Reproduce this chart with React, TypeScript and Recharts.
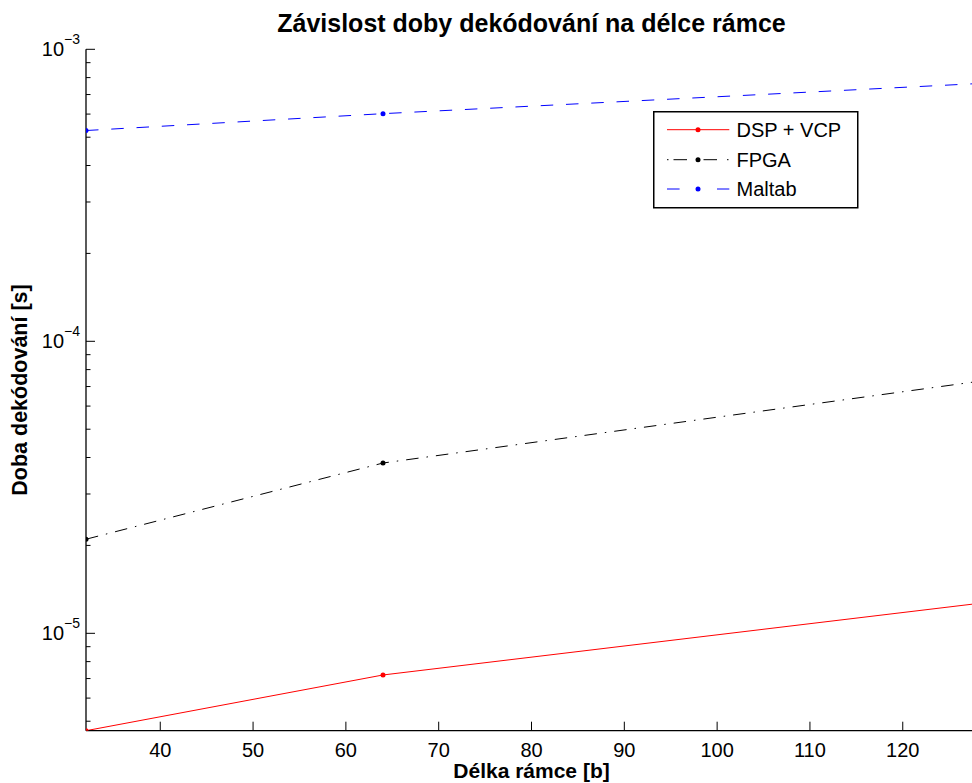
import React from "react";
import { LineChart, Line, XAxis, YAxis } from "recharts";

const frameLengths = [32, 64, 128];
const dspVcp = [4.64e-6, 7.2e-6, 1.264e-5];
const fpga = [2.1e-5, 3.83e-5, 7.28e-5];
const maltab = [5.27e-4, 6.02e-4, 7.63e-4];

const xTicks = [40, 50, 60, 70, 80, 90, 100, 110, 120];
const yTicks = [
  5e-6, 6e-6, 7e-6, 8e-6, 9e-6,
  1e-5, 2e-5, 3e-5, 4e-5, 5e-5, 6e-5, 7e-5, 8e-5, 9e-5,
  1e-4, 2e-4, 3e-4, 4e-4, 5e-4, 6e-4, 7e-4, 8e-4, 9e-4,
  1e-3,
];
const yDomain = [4.64e-6, 1e-3];
const xDomain = [32, 128];

const title = "Závislost doby dekódování na délce rámce";
const xLabel = "Délka rámce [b]";
const yLabel = "Doba dekódování [s]";

const series = [
  { key: "dsp", name: "DSP + VCP", color: "#ff0000", dash: undefined as string | undefined, legendDash: undefined as string | undefined },
  { key: "fpga", name: "FPGA", color: "#000000", dash: "12.5 8 1.5 8", legendDash: "1.5 5 13.5 10" },
  { key: "maltab", name: "Maltab", color: "#0000ff", dash: "12.5 12.8", legendDash: "12.6 37.4" },
];

const data = frameLengths.map((x, i) => ({
  x,
  dsp: dspVcp[i],
  fpga: fpga[i],
  maltab: maltab[i],
}));

const FONT = "'Liberation Sans', Arial, Helvetica, sans-serif";

const W = 980;
const H = 783;

function isMajor(v: number) {
  const e = Math.round(Math.log10(v));
  return Math.abs(v - Math.pow(10, e)) / v < 1e-6;
}

const YTick = (props: any) => {
  const { x, y, payload, side } = props;
  const v = payload.value;
  const major = isMajor(v);
  const len = major ? 9 : 4.5;
  const dir = side === "left" ? 1 : -1;
  const e = Math.round(Math.log10(v));
  return (
    <g>
      <line x1={x} x2={x + dir * len} y1={y} y2={y} stroke="#000" strokeWidth={1} />
      {major && side === "left" && (
        <text
          x={x - 6}
          y={y + 7}
          textAnchor="end"
          fontFamily={FONT}
          fontSize={20}
          fill="#000"
        >
          <tspan>10</tspan>
          <tspan dy={-12} fontSize={14}>{"\u2212" + Math.abs(e)}</tspan>
        </text>
      )}
    </g>
  );
};

const XTick = (props: any) => {
  const { x, y, payload, side } = props;
  const dir = side === "bottom" ? -1 : 1;
  return (
    <g>
      <line x1={x} x2={x} y1={y} y2={y + dir * 9} stroke="#000" strokeWidth={1} />
      {side === "bottom" && (
        <text
          x={x}
          y={y + 26}
          textAnchor="middle"
          fontFamily={FONT}
          fontSize={20}
          fill="#000"
        >
          {payload.value}
        </text>
      )}
    </g>
  );
};

const LegendBox = ({ left, top }: { left: number; top: number }) => {
  const rows = [18.7, 48.7, 78];
  return (
    <g transform={`translate(${left}, ${top})`}>
      <rect x={0.75} y={0.75} width={204} height={96} fill="#fff" stroke="#000" strokeWidth={1.5} />
      {series.map((s, i) => (
        <g key={s.key}>
          <line
            x1={14}
            x2={76.3}
            y1={rows[i]}
            y2={rows[i]}
            stroke={s.color}
            strokeWidth={1}
            strokeDasharray={s.legendDash}
          />
          <circle cx={45} cy={rows[i]} r={2.5} fill={s.color} />
          <text
            x={83.5}
            y={rows[i] + 7}
            fontFamily={FONT}
            fontSize={20}
            fill="#000"
          >
            {s.name}
          </text>
        </g>
      ))}
    </g>
  );
};

export default function App() {
  return (
    <div
      style={{
        position: "fixed",
        left: 0,
        top: 0,
        width: 972,
        height: 783,
        overflow: "hidden",
        background: "#fff",
      }}
    >
      <LineChart
        width={W}
        height={H}
        data={data}
        margin={{ top: 49.3, right: 3, bottom: 0, left: 0 }}
        style={{ fontFamily: FONT }}
      >
        <XAxis
          dataKey="x"
          type="number"
          domain={xDomain}
          ticks={xTicks}
          interval={0}
          allowDataOverflow
          height={52.3}
          tickSize={0}
          tickMargin={0}
          tickLine={false}
          axisLine={{ stroke: "#000", strokeWidth: 1.3 }}
          tick={(p: any) => <XTick {...p} side="bottom" />}
        />
        <XAxis
          xAxisId="top"
          orientation="top"
          dataKey="x"
          type="number"
          domain={xDomain}
          ticks={xTicks}
          interval={0}
          allowDataOverflow
          height={0}
          tickSize={0}
          tickMargin={0}
          tickLine={false}
          axisLine={{ stroke: "#000", strokeWidth: 1.3 }}
          tick={(p: any) => <XTick {...p} side="top" />}
        />
        <YAxis
          type="number"
          scale="log"
          domain={yDomain}
          ticks={yTicks}
          interval={0}
          allowDataOverflow
          width={86}
          tickSize={0}
          tickMargin={0}
          tickLine={false}
          axisLine={{ stroke: "#000", strokeWidth: 1.3 }}
          tick={(p: any) => <YTick {...p} side="left" />}
        />
        <YAxis
          yAxisId="right"
          orientation="right"
          type="number"
          scale="log"
          domain={yDomain}
          ticks={yTicks}
          interval={0}
          allowDataOverflow
          width={0}
          tickSize={0}
          tickMargin={0}
          tickLine={false}
          axisLine={{ stroke: "#000", strokeWidth: 1.3 }}
          tick={(p: any) => <YTick {...p} side="right" />}
        />
        {series.map((s) => (
          <Line
            key={s.key}
            dataKey={s.key}
            name={s.name}
            type="linear"
            stroke={s.color}
            strokeWidth={1}
            strokeDasharray={s.dash}
            dot={{ r: 2.5, fill: s.color, stroke: s.color, strokeWidth: 0 }}
            activeDot={false}
            isAnimationActive={false}
          />
        ))}
      </LineChart>
      <svg
        width={972}
        height={783}
        style={{ position: "absolute", left: 0, top: 0, pointerEvents: "none" }}
      >
        <LegendBox left={653} top={111} />
        <text
          x={531.5}
          y={31.7}
          textAnchor="middle"
          fontFamily={FONT}
          fontWeight="bold"
          fontSize={25}
          fill="#000"
        >
          {title}
        </text>
        <text
          x={531.5}
          y={778}
          textAnchor="middle"
          fontFamily={FONT}
          fontWeight="bold"
          fontSize={21}
          fill="#000"
        >
          {xLabel}
        </text>
        <text
          transform="translate(26.7, 390) rotate(-90)"
          x={0}
          y={0}
          textAnchor="middle"
          fontFamily={FONT}
          fontWeight="bold"
          fontSize={21.5}
          fill="#000"
        >
          {yLabel}
        </text>
      </svg>
    </div>
  );
}
